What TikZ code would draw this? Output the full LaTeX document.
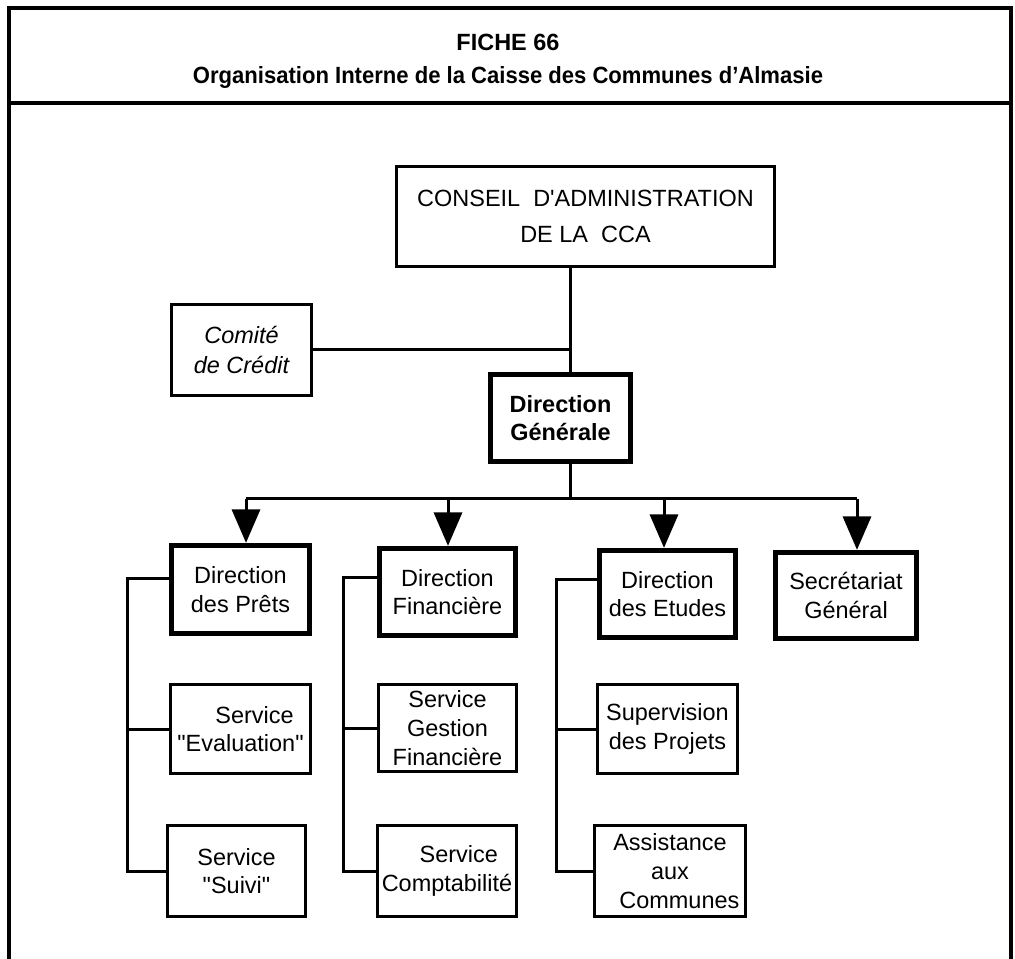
\documentclass[tikz,border=0pt]{standalone}
\usepackage{fontspec}
\setmainfont{Liberation Sans}
% plain family without TeX ligature mapping, so ' and " stay straight
\newfontfamily\chartfont{Liberation Sans}
\newfontfamily\headfont{Liberation Sans}[FakeStretch=0.94]
\usetikzlibrary{arrows.meta}
\begin{document}
\begin{tikzpicture}[x=0.75pt,y=-0.75pt,
  every node/.style={font=\chartfont\fontsize{17.6}{21.5}\selectfont, align=center, inner sep=0pt},
  sz/.style 2 args={minimum width={#1*0.75pt}, minimum height={#2*0.75pt}},
  thinbox/.style={draw, line width=2.25pt},
  thickbox/.style={draw, line width=4pt},
  conn/.style={line width=2.25pt},
  arr/.style={-{Triangle[width=21pt,length=25pt]}},
  frame/.style={line width=3pt}]
\useasboundingbox (0,0) rectangle (1015,959);

% outer frame (open at the bottom) and header rule
\draw[frame] (9,959) -- (9,8) -- (1011,8) -- (1011,959);
\draw[frame] (9,103) -- (1011,103);

\node[font=\chartfont\bfseries\fontsize{17.6}{21}\selectfont] (title) at (508,42) {FICHE 66};
\node[font=\headfont\bfseries\fontsize{17.6}{21}\selectfont] (subtitle) at (508,77)
  {Organisation Interne de la Caisse des Communes d’Almasie};

% governing bodies
\node[thinbox, sz={378}{100}, font=\chartfont\fontsize{17.6}{27}\selectfont] (conseil) at (585.5,216.5)
  {CONSEIL\ \ D'ADMINISTRATION\\DE LA\ \ CCA};
\node[thinbox, sz={140}{91}, font=\chartfont\itshape\fontsize{17.6}{22}\selectfont] (comite) at (241.5,350)
  {Comité\\de Crédit};
\node[thickbox, sz={140}{87}, font=\chartfont\bfseries\fontsize{17.6}{21}\selectfont] (dg) at (560.5,418)
  {Direction\\Générale};

% directions
\node[thickbox, sz={138}{88}] (dp) at (240.5,589.5) {Direction\\des Prêts};
\node[thickbox, sz={136}{87}] (df) at (447.5,592) {Direction\\Financière};
\node[thickbox, sz={136}{87}] (de) at (667.5,594) {Direction\\des Etudes};
\node[thickbox, sz={141}{86}] (sg) at (846,595.5) {Secrétariat\\Général};

% services
\node[thinbox, sz={140}{89}] (se) at (240.5,729) {\hspace*{1.2em}Service\\"Evaluation"};
\node[thinbox, sz={138}{91}] (ssv) at (236.5,871) {Service\\"Suivi"};
\node[thinbox, sz={138}{87}] (sgf) at (447.5,728) {Service\\Gestion\\Financière};
\node[thinbox, sz={139}{91}] (sc) at (447,871) {\hspace*{1em}Service\\Comptabilité};
\node[thinbox, sz={140}{89}] (sp) at (667.5,729) {Supervision\\des Projets};
\node[thinbox, sz={151}{91}] (aa) at (670,871) {Assistance\\aux\\\hspace*{0.8em}Communes};

% hierarchy lines
\coordinate (j) at (570,347);
\coordinate (b1) at (246,499);
\coordinate (b2) at (448,499);
\coordinate (b3) at (664,499);
\coordinate (b4) at (857,499);

\draw[conn] (conseil.south -| j) -- (dg.north -| j);
\draw[conn] (comite.east) -- (comite.east -| j);
\draw[conn] (dg.south -| j) -- (b1 -| j);
\draw[conn] (b1) -- (b4);
\draw[conn, arr] (b1) -- (b1 |- dp.north);
\draw[conn, arr] (b2) -- (b2 |- df.north);
\draw[conn, arr] (b3) -- (b3 |- de.north);
\draw[conn, arr] (b4) -- (b4 |- sg.north);

% service brackets
\coordinate (kA) at (127,578);
\coordinate (kB) at (343,577);
\coordinate (kC) at (556,579);
\draw[conn] (dp.west |- kA) -- (kA) |- (ssv.west);
\draw[conn] (kA |- se.west) -- (se.west);
\draw[conn] (df.west |- kB) -- (kB) |- (sc.west);
\draw[conn] (kB |- sgf.west) -- (sgf.west);
\draw[conn] (de.west |- kC) -- (kC) |- (aa.west);
\draw[conn] (kC |- sp.west) -- (sp.west);
\end{tikzpicture}
\end{document}
